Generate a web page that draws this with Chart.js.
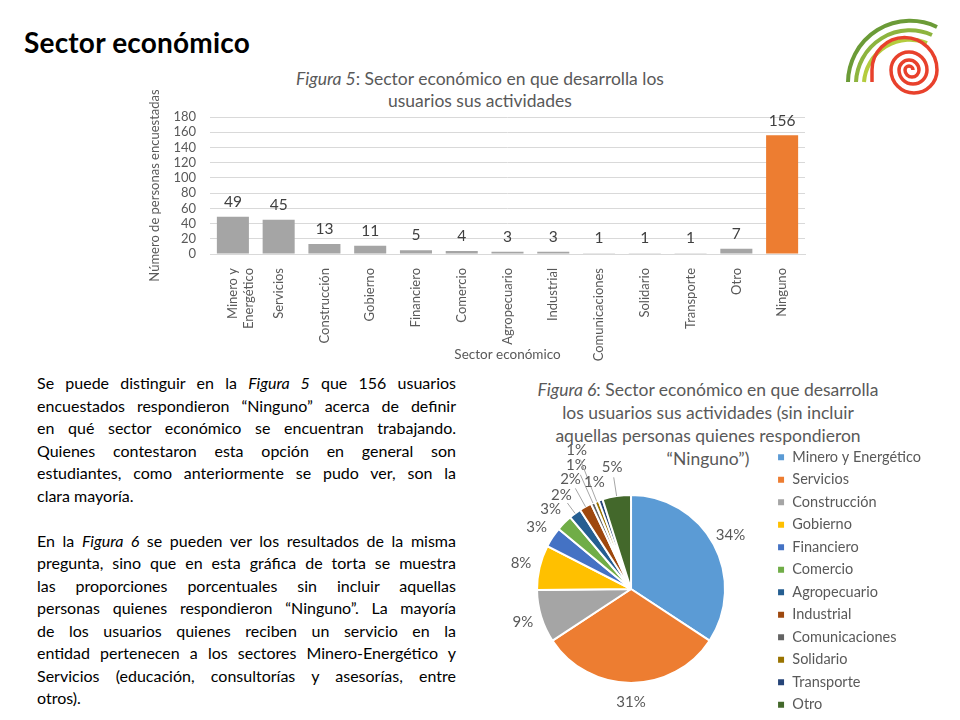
<!DOCTYPE html>
<html>
<head>
<meta charset="utf-8">
<script src="https://cdn.jsdelivr.net/npm/chart.js@4"></script>
<style>
  body { margin:0; width:960px; height:720px; background:#fff; overflow:hidden; position:relative; font-family: Lato, "Open Sans", sans-serif; }
  .abs { position:absolute; }
  h1 { position:absolute; left:24px; top:28px; margin:0; font-size:28px; line-height:28px; letter-spacing:0.2px; font-weight:bold; color:#000; }
  .ctitle { position:absolute; text-align:center; color:#595959; font-size:17.5px; }
  .txt { position:absolute; left:37px; top:372px; width:419px; font-size:16px; line-height:22.5px; color:#000; }
  .txt div { text-align:justify; text-align-last:justify; }
  .txt div.last { text-align-last:left; }
</style>
</head>
<body>

<h1>Sector económico</h1>

<svg class="abs" style="left:0;top:0" width="960" height="100">
  <g fill="none">
    <path d="M848 82 A62 62 0 0 1 937 27" stroke="#6b9b37" stroke-width="4"/>
    <path d="M856 82 A54 54 0 0 1 932 35" stroke="#8db43e" stroke-width="4"/>
    <path d="M864 82 A46 46 0 0 1 927 43" stroke="#b4cc3e" stroke-width="4"/>
    <path d="M872 82 L872 70 A32.5 32.5 0 0 1 937 70 A23 23 0 0 1 891 70 A18 18 0 0 1 927 70 A14 14 0 0 1 899 70 A10 10 0 0 1 919 70 A7 7 0 0 1 905 70 A4 4 0 0 1 913 70" stroke="#e8412c" stroke-width="3.5"/>
  </g>
</svg>

<div class="ctitle" style="left:220px;top:68px;width:520px;line-height:22px"><i>Figura 5</i>: Sector económico en que desarrolla los<br>usuarios sus actividades</div>
<canvas id="bar" class="abs" style="left:140px;top:60px" width="680" height="310"></canvas>

<div class="txt">
  <div>Se puede distinguir en la <i>Figura 5</i> que 156 usuarios</div>
  <div>encuestados respondieron “Ninguno” acerca de definir</div>
  <div>en qué sector económico se encuentran trabajando.</div>
  <div>Quienes contestaron esta opción en general son</div>
  <div>estudiantes, como anteriormente se pudo ver, son la</div>
  <div class="last">clara mayoría.</div>
  <div class="last">&nbsp;</div>
  <div>En la <i>Figura 6</i> se pueden ver los resultados de la misma</div>
  <div>pregunta, sino que en esta gráfica de torta se muestra</div>
  <div>las proporciones porcentuales sin incluir aquellas</div>
  <div>personas quienes respondieron “Ninguno”. La mayoría</div>
  <div>de los usuarios quienes reciben un servicio en la</div>
  <div>entidad pertenecen a los sectores Minero-Energético y</div>
  <div>Servicios (educación, consultorías y asesorías, entre</div>
  <div class="last">otros).</div>
</div>

<div class="ctitle" style="left:488px;top:378px;width:440px;line-height:23px"><i>Figura 6</i>: Sector económico en que desarrolla<br>los usuarios sus actividades (sin incluir<br>aquellas personas quienes respondieron<br>“Ninguno”)</div>
<canvas id="pie" class="abs" style="left:480px;top:370px" width="480" height="366"></canvas>

<script>
// data
const barLabels = [['Minero y', 'Energético'], 'Servicios', 'Construcción', 'Gobierno', 'Financiero', 'Comercio',
  'Agropecuario', 'Industrial', 'Comunicaciones', 'Solidario', 'Transporte', 'Otro', 'Ninguno'];
const barValues = [49, 45, 13, 11, 5, 4, 3, 3, 1, 1, 1, 7, 156];
const yMin = 0, yMax = 180, yStep = 20;

const pieLabels = ['Minero y Energético', 'Servicios', 'Construcción', 'Gobierno', 'Financiero', 'Comercio',
  'Agropecuario', 'Industrial', 'Comunicaciones', 'Solidario', 'Transporte', 'Otro'];
const pieValues = [49, 45, 13, 11, 5, 4, 3, 3, 1, 1, 1, 7];

const FONT = 'Lato';
const greyText = '#595959';

// value labels above bars
const barValueLabels = {
  id: 'barValueLabels',
  afterDatasetsDraw(chart) {
    const ctx = chart.ctx;
    const meta = chart.getDatasetMeta(0);
    const vals = chart.data.datasets[0].data;
    ctx.save();
    ctx.font = '15.5px ' + FONT;
    ctx.fillStyle = '#404040';
    ctx.textAlign = 'center';
    ctx.textBaseline = 'bottom';
    meta.data.forEach((bar, i) => {
      ctx.fillText(vals[i], bar.x, bar.y - 7);
    });
    ctx.restore();
  }
};

// percent labels round the pie, pushed outward when they collide
const pieLabelPlugin = {
  id: 'pieLabels',
  afterDatasetsDraw(chart) {
    const ctx = chart.ctx;
    const meta = chart.getDatasetMeta(0);
    const vals = chart.data.datasets[0].data;
    const total = vals.reduce((a, b) => a + b, 0);
    ctx.save();
    ctx.font = '15px ' + FONT;
    ctx.textAlign = 'center';
    ctx.textBaseline = 'middle';
    const placed = [];
    meta.data.forEach((arc, i) => {
      const p = arc.getProps(['x', 'y', 'startAngle', 'endAngle', 'outerRadius'], true);
      const mid = (p.startAngle + p.endAngle) / 2;
      const txt = Math.round(vals[i] / total * 100) + '%';
      const w = ctx.measureText(txt).width, h = 14;
      const base = p.outerRadius + 19;
      let r = base, x, y, box;
      for (let k = 0; k < 80; k++) {
        x = p.x + Math.cos(mid) * r;
        y = p.y + Math.sin(mid) * r;
        box = { l: x - w / 2, r: x + w / 2, t: y - h / 2, b: y + h / 2 };
        if (!placed.some(q => box.l < q.r && box.r > q.l && box.t < q.b && box.b > q.t)) break;
        r += 2;
      }
      placed.push(box);
      if (r > base) {
        ctx.strokeStyle = '#a6a6a6';
        ctx.lineWidth = 1;
        ctx.beginPath();
        ctx.moveTo(p.x + Math.cos(mid) * p.outerRadius, p.y + Math.sin(mid) * p.outerRadius);
        ctx.lineTo(p.x + Math.cos(mid) * (r - 10), p.y + Math.sin(mid) * (r - 10));
        ctx.stroke();
      }
      ctx.fillStyle = greyText;
      ctx.fillText(txt, x, y);
    });
    ctx.restore();
  }
};

new Chart(document.getElementById('bar'), {
  type: 'bar',
  data: {
    labels: barLabels,
    datasets: [{
      data: barValues,
      backgroundColor: barValues.map((v, i) => i === barValues.length - 1 ? '#ed7d31' : '#a5a5a5'),
      categoryPercentage: 1,
      barPercentage: 0.7
    }]
  },
  options: {
    responsive: false,
    animation: false,
    layout: { padding: { left: 0, right: 15, top: 57, bottom: 0 } },
    plugins: { legend: { display: false }, tooltip: { enabled: false } },
    scales: {
      x: {
        grid: { display: false },
        border: { color: '#d9d9d9' },
        ticks: { color: greyText, font: { family: FONT, size: 13 }, minRotation: 90, maxRotation: 90, autoSkip: false, padding: 6 },
        title: { display: true, text: 'Sector económico', color: greyText, font: { family: FONT, size: 13.5 }, padding: { top: 4, bottom: 7 } },
        afterFit(scale) { scale.height = 116; }
      },
      y: {
        min: yMin, max: yMax,
        grid: { color: '#d9d9d9', drawTicks: false },
        border: { display: false },
        ticks: { stepSize: yStep, autoSkip: false, color: greyText, font: { family: FONT, size: 13 }, padding: 14 },
        title: { display: true, text: 'Número de personas encuestadas', color: greyText, font: { family: FONT, size: 13 }, padding: { top: 7, bottom: 4 } },
        afterFit(scale) { scale.width = 70; }
      }
    }
  },
  plugins: [barValueLabels]
});

new Chart(document.getElementById('pie'), {
  type: 'pie',
  data: {
    labels: pieLabels,
    datasets: [{
      data: pieValues,
      backgroundColor: ['#5b9bd5', '#ed7d31', '#a5a5a5', '#ffc000', '#4472c4', '#70ad47',
        '#255e91', '#9e480e', '#636363', '#997300', '#264478', '#43682b'],
      borderColor: '#ffffff',
      borderWidth: 2,
      radius: 94
    }]
  },
  options: {
    responsive: false,
    animation: false,
    layout: { padding: { left: 13, right: 29, top: 72, bottom: 0 } },
    plugins: {
      tooltip: { enabled: false },
      legend: {
        position: 'right',
        align: 'start',
        labels: { boxWidth: 8, boxHeight: 8, padding: 8, color: greyText, font: { family: FONT, size: 14.5 } }
      }
    }
  },
  plugins: [pieLabelPlugin]
});
</script>
</body>
</html>
